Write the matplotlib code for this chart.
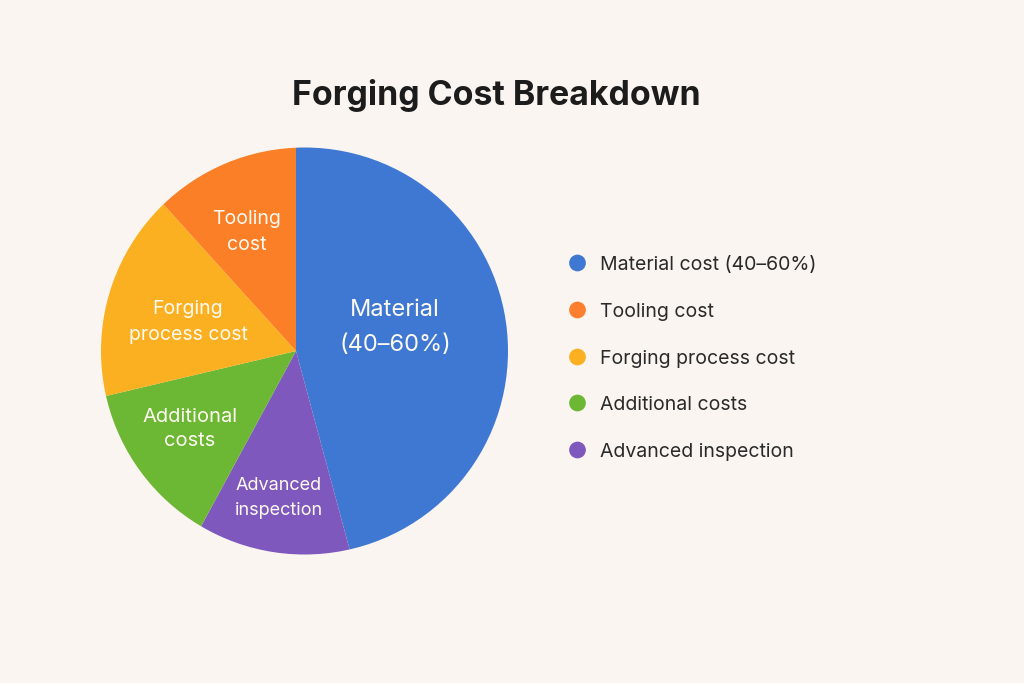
import matplotlib
matplotlib.use('Agg')
import matplotlib.pyplot as plt
from matplotlib.patches import Circle

# shares of the pie
labels = ["Material\n(40–60%)", "Advanced\ninspection", "Additional\ncosts",
          "Forging\nprocess cost", "Tooling\ncost"]
shares = [45.8, 12.1, 13.4, 17.0, 11.7]
colors = ["#3F78D3", "#7F58BE", "#6CB733", "#FBB021", "#FB7F26"]

legend_labels = ["Material cost (40–60%)", "Tooling cost", "Forging process cost",
                 "Additional costs", "Advanced inspection"]
legend_colors = ["#3F78D3", "#FB7F2E", "#FBB021", "#6CB733", "#7F58BE"]

W, H = 1024, 683
BG = "#FAF5F0"
TXT = "#FDFAF2"
plt.rcParams['font.family'] = ['Inter', 'DejaVu Sans']

fig = plt.figure(figsize=(W / 100, H / 100), dpi=100, facecolor=BG)

# axes in pixels, y flipped by hand so the pie keeps its direction
ax = fig.add_axes([0, 0, 1, 1])

# the slices meet left of the circle's middle, so oversize them and clip
wedges, _ = ax.pie(shares, colors=colors, startangle=90, counterclock=False,
                   center=(296, H - 351), radius=240)
ax.set_xlim(0, W)
ax.set_ylim(0, H)
ax.axis('off')
outline = Circle((304.5, H - 351), 203.5, transform=ax.transData)
for w in wedges:
    w.set_clip_on(True)
    w.set_clip_path(outline)


def put(x, y, s, **kw):
    ax.text(x, H - y, s, ha='center', va='center', **kw)


put(496, 96, "Forging Cost Breakdown", fontsize=24.4, fontweight='bold', color='#1c1c1c')

put(395, 327.5, labels[0], color=TXT, fontsize=17, linespacing=1.75)
put(279, 498, labels[1], color=TXT, fontsize=13, linespacing=1.55)
put(190, 429, labels[2], color=TXT, fontsize=14.5, linespacing=1.5)
put(188, 322, labels[3], color=TXT, fontsize=14, linespacing=1.55)
put(247, 232, labels[4], color=TXT, fontsize=14, linespacing=1.55)

# hand placed legend
legend_ys = [263, 310, 357, 403, 450]
ax.scatter([577.5] * 5, [H - y for y in legend_ys], s=145, c=legend_colors, linewidths=0)
for y, s in zip(legend_ys, legend_labels):
    ax.text(600, H - y - 2, s, ha='left', va='center', fontsize=14, color='#2a2a2a')

fig.savefig('out.png', dpi=100, facecolor=BG)
